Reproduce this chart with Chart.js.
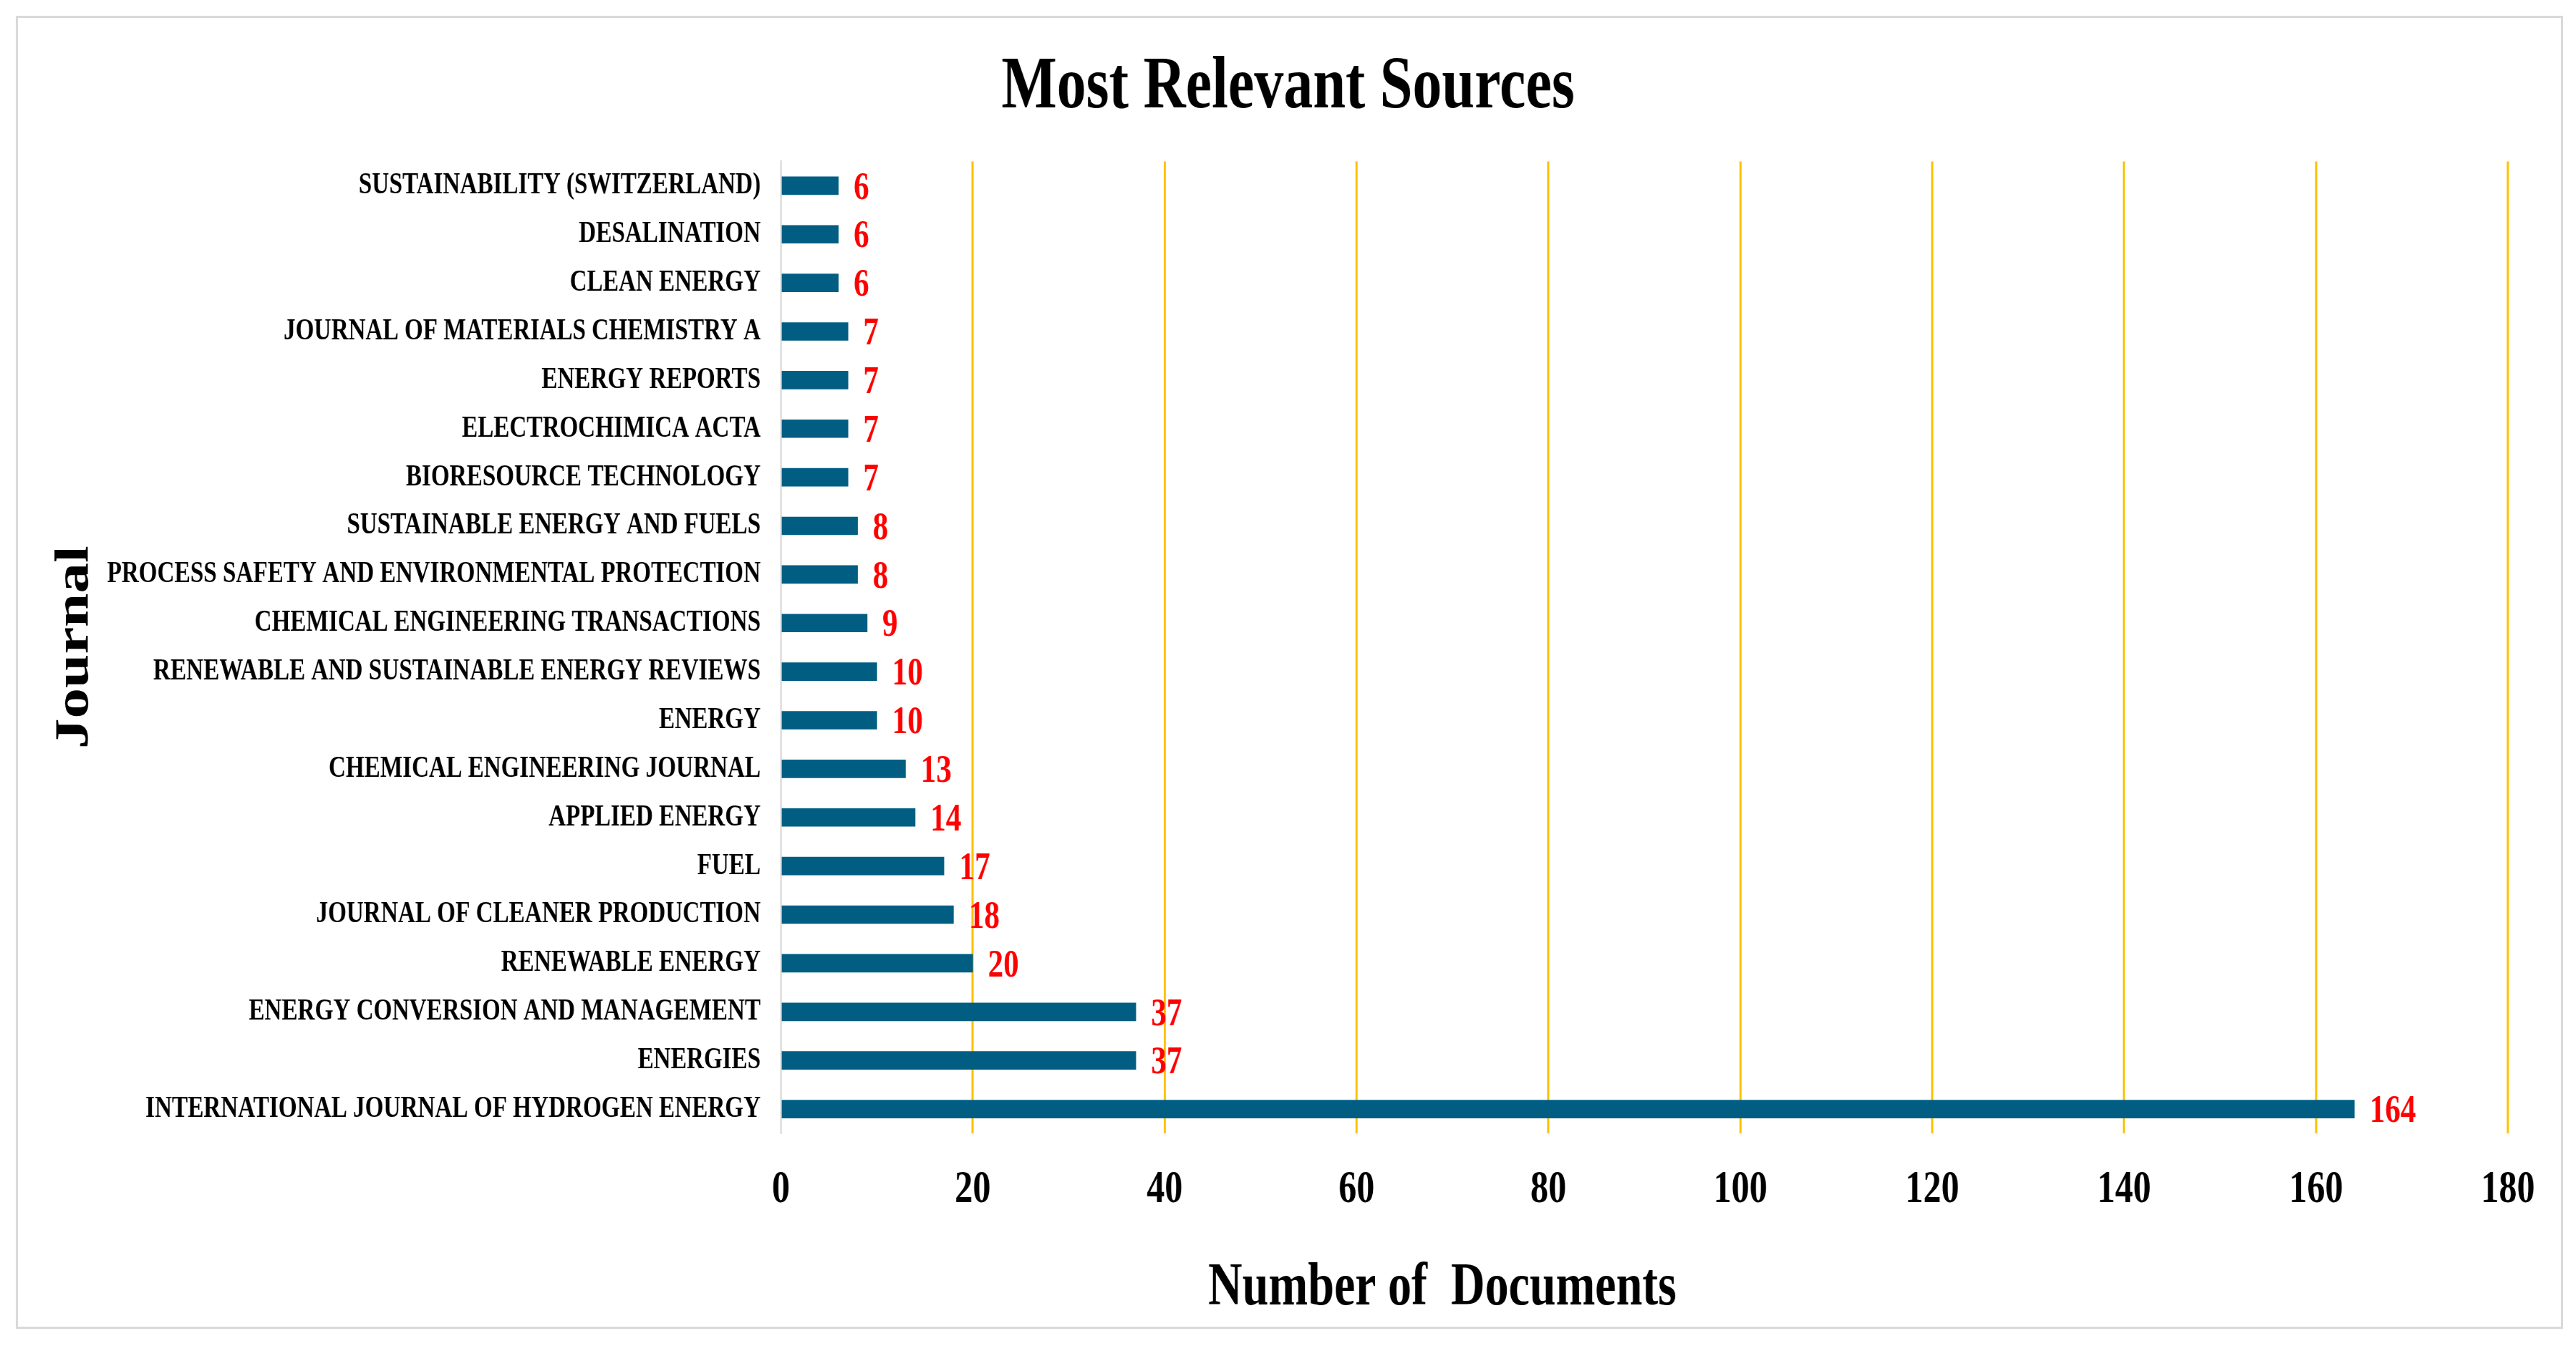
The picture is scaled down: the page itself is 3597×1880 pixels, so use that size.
<!DOCTYPE html>
<html>
<head>
<meta charset="utf-8">
<title>Most Relevant Sources</title>
<script src="https://cdn.jsdelivr.net/npm/chart.js@4.4.1/dist/chart.umd.min.js"></script>
<style>
    html, body {
        margin: 0;
        padding: 0;
        background: #ffffff;
        overflow: hidden;
        width: 3597px;
        height: 1880px;
    }
    #frame {
        position: absolute;
        left: 22px;
        top: 22px;
        width: 3551px;
        height: 1828px;
        border: 3px solid #d9d9d9;
    }
    /* the source picture is squeezed sideways, so the chart is drawn wide and scaled back */
    #wrap {
        position: absolute;
        left: 0;
        top: 0;
        width: 4582px;
        height: 1880px;
        transform: scaleX(0.785);
        transform-origin: 0 0;
    }
</style>
</head>
<body>
<div id="frame"></div>
<div id="wrap">
    <canvas id="sourcesChart"></canvas>
</div>

<script>
const journals = [
    "SUSTAINABILITY (SWITZERLAND)",
    "DESALINATION",
    "CLEAN ENERGY",
    "JOURNAL OF MATERIALS CHEMISTRY A",
    "ENERGY REPORTS",
    "ELECTROCHIMICA ACTA",
    "BIORESOURCE TECHNOLOGY",
    "SUSTAINABLE ENERGY AND FUELS",
    "PROCESS SAFETY AND ENVIRONMENTAL PROTECTION",
    "CHEMICAL ENGINEERING TRANSACTIONS",
    "RENEWABLE AND SUSTAINABLE ENERGY REVIEWS",
    "ENERGY",
    "CHEMICAL ENGINEERING JOURNAL",
    "APPLIED ENERGY",
    "FUEL",
    "JOURNAL OF CLEANER PRODUCTION",
    "RENEWABLE ENERGY",
    "ENERGY CONVERSION AND MANAGEMENT",
    "ENERGIES",
    "INTERNATIONAL JOURNAL OF HYDROGEN ENERGY"
];

const documents = [6, 6, 6, 7, 7, 7, 7, 8, 8, 9, 10, 10, 13, 14, 17, 18, 20, 37, 37, 164];

const xMin = 0;
const xMax = 180;
const xStep = 20;

const chartTitle = "Most Relevant Sources";
const xTitle = "Number of  Documents";
const yTitle = "Journal";

const SERIF = "'Liberation Serif', 'Times New Roman', serif";

// red count next to each bar
const valueLabels = {
    id: "valueLabels",
    afterDatasetsDraw(chart) {
        const ctx = chart.ctx;
        const meta = chart.getDatasetMeta(0);
        ctx.save();
        ctx.font = "bold 55px " + SERIF;
        ctx.fillStyle = "#ff0000";
        ctx.textAlign = "left";
        ctx.textBaseline = "middle";
        meta.data.forEach((bar, i) => {
            ctx.fillText(String(documents[i]), bar.x + 27, bar.y + 4);
        });
        ctx.restore();
    }
};

// x axis title sits left of centre in the source
const xAxisTitle = {
    id: "xAxisTitle",
    afterDraw(chart) {
        const ctx = chart.ctx;
        const area = chart.chartArea;
        ctx.save();
        ctx.font = "bold 84px " + SERIF;
        ctx.fillStyle = "#000000";
        ctx.textAlign = "center";
        ctx.textBaseline = "alphabetic";
        ctx.fillText(xTitle, area.left + (area.right - area.left) * 0.383, area.bottom + 239);
        ctx.restore();
    }
};

const ctx = document.getElementById("sourcesChart").getContext("2d");

new Chart(ctx, {
    type: "bar",
    data: {
        labels: journals,
        datasets: [{
            label: "Documents",
            data: documents,
            backgroundColor: "#015e82",
            borderWidth: 0,
            barThickness: 25
        }]
    },
    options: {
        indexAxis: "y",
        responsive: true,
        maintainAspectRatio: false,
        devicePixelRatio: 1,
        animation: false,
        layout: {
            padding: { top: 0, right: 121, bottom: 0, left: 121 }
        },
        plugins: {
            legend: { display: false },
            tooltip: { enabled: false },
            title: {
                display: true,
                text: chartTitle,
                color: "#000000",
                font: { family: SERIF, size: 104.5, weight: "bold", lineHeight: 1.2 },
                padding: { top: 60, bottom: 40 }
            }
        },
        scales: {
            x: {
                min: xMin,
                max: xMax,
                afterFit(scale) {
                    scale.height = 297;
                },
                ticks: {
                    stepSize: xStep,
                    padding: 41,
                    color: "#000000",
                    font: { family: SERIF, size: 64, weight: "bold" }
                },
                grid: {
                    drawTicks: false,
                    lineWidth: 3.8,
                    color: c => (c.tick && c.tick.value === 0) ? "rgba(0,0,0,0)" : "#ffc000"
                },
                border: { display: false }
            },
            y: {
                afterFit(scale) {
                    scale.width = 1268;
                },
                ticks: {
                    padding: 36,
                    color: "#000000",
                    autoSkip: false,
                    font: { family: SERIF, size: 42.3, weight: "bold" }
                },
                grid: { display: false, drawTicks: false },
                border: { display: true, color: "#d0d0d0", width: 2.5 },
                title: {
                    display: true,
                    text: yTitle,
                    color: "#000000",
                    font: { family: SERIF, size: 85, weight: "bold", lineHeight: 1.2 },
                    padding: { top: -38, bottom: 0 }
                }
            }
        }
    },
    plugins: [valueLabels, xAxisTitle]
});
</script>
</body>
</html>
